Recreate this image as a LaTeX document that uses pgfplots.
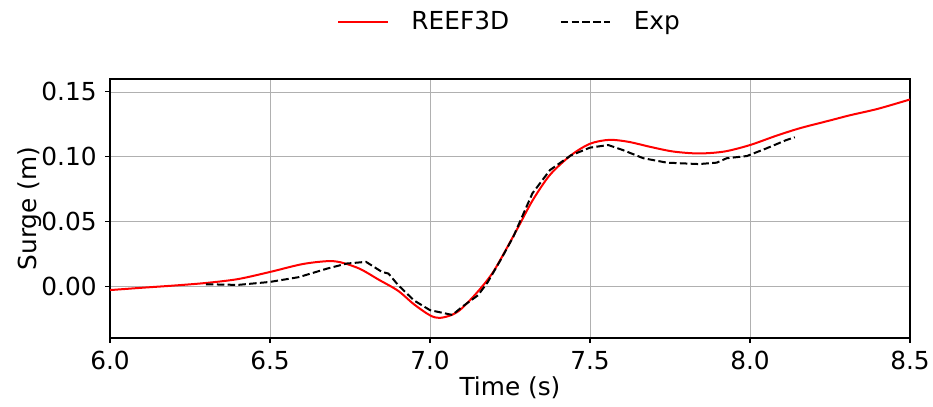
\documentclass[border=0pt]{standalone}
\usepackage{fontspec}
\setmainfont{DejaVu Sans}
\usepackage{pgfplots}
\pgfplotsset{compat=1.18}
\definecolor{gridgray}{RGB}{176,176,176}

\begin{document}
\fontsize{18.6}{22}\selectfont
\begin{tikzpicture}
\begin{axis}[
    scale only axis,
    width=600pt, height=194.25pt,
    xmin=6.0, xmax=8.5,
    ymin=-0.04, ymax=0.16,
    xtick={6.0,6.5,7.0,7.5,8.0,8.5},
    ytick={0,0.05,0.10,0.15},
    xticklabel style={/pgf/number format/.cd,fixed,fixed zerofill,precision=1},
    yticklabel style={/pgf/number format/.cd,fixed,fixed zerofill,precision=2},
    scaled y ticks=false,
    /pgf/number format/assume math mode=true,
    tick align=outside, tick pos=left,
    major tick length=3.6pt,
    tick style={black, line width=0.8pt},
    grid=major,
    grid style={gridgray, line width=0.6pt},
    axis line style={line width=0.8pt},
    xlabel={Time (s)}, ylabel={Surge (m)},
    xlabel style={at={(axis description cs:0.5,-0.193)}, anchor=center},
    ylabel style={at={(axis description cs:-0.1,0.5)}, anchor=center},
    legend columns=2,
    legend style={at={(0.5,1.22)}, anchor=center, draw=none, fill=none,
        /tikz/every odd column/.append style={column sep=15pt},
        /tikz/every even column/.append style={column sep=36pt}},
    legend image code/.code={\draw[#1] (0pt,0pt) -- (37pt,0pt);},
]
\addplot[red, line width=1.5pt, smooth] coordinates {
(6.0,-0.003)(6.1,-0.0012)(6.2,0.0005)(6.3,0.0025)(6.4,0.0055)(6.5,0.011)
(6.6,0.017)(6.677,0.0193)(6.72,0.0185)(6.78,0.0135)(6.84,0.005)(6.9,-0.0035)
(6.95,-0.014)(7.0,-0.0225)(7.03,-0.0245)(7.07,-0.022)(7.1,-0.017)(7.15,-0.004)
(7.2,0.012)(7.27,0.043)(7.32,0.066)(7.375,0.086)(7.44,0.101)(7.5,0.110)
(7.56,0.113)(7.62,0.1115)(7.69,0.1075)(7.76,0.104)(7.84,0.1025)(7.92,0.104)
(8.0,0.109)(8.08,0.116)(8.156,0.122)(8.25,0.128)(8.3125,0.132)(8.4,0.137)(8.5,0.1442)
};
\addlegendentry{REEF3D}
\addplot[black, line width=1.5pt, dash pattern=on 5.6pt off 2.5pt] coordinates {
(6.30,0.0015)(6.40,0.001)(6.5,0.0033)(6.59,0.007)(6.68,0.0137)(6.74,0.0175)
(6.80,0.0188)(6.85,0.011)(6.87,0.0098)(6.90,0.001)(6.95,-0.011)(7.0,-0.0185)
(7.07,-0.0222)(7.10,-0.016)(7.15,-0.007)(7.18,0.003)(7.22,0.020)(7.26,0.038)
(7.32,0.0717)(7.375,0.0897)(7.44,0.101)(7.5,0.107)(7.557,0.109)(7.604,0.105)
(7.667,0.0988)(7.74,0.0954)(7.84,0.0943)(7.896,0.0954)(7.927,0.0988)(7.99,0.1005)
(8.052,0.1065)(8.115,0.113)(8.14,0.115)
};
\addlegendentry{Exp}
\end{axis}
\pgfresetboundingbox
\path ([xshift=-82.5pt,yshift=-51pt]current axis.south west)
  rectangle ([xshift=17.25pt,yshift=59.25pt]current axis.north east);
\end{tikzpicture}
\end{document}
